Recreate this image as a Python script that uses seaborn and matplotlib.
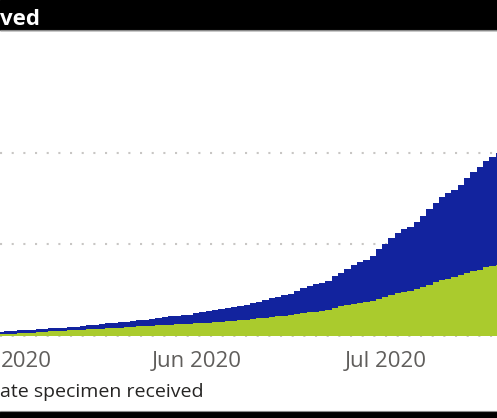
# cumulative stacked bars, cropped Power BI style view
import pandas as pd
import matplotlib.pyplot as plt
import seaborn as sns
from matplotlib.patches import Rectangle
from matplotlib.lines import Line2D

days = pd.date_range("2020-05-01", "2020-07-19").strftime("%Y-%m-%d")

# bottom segment (green), cumulative
green_counts = [220, 250, 280, 330, 360, 390, 440, 470, 500, 550,
                580, 610, 660, 690, 720, 770, 800, 830, 870, 910,
                980, 1020, 1050, 1090, 1130, 1160, 1200, 1240, 1270, 1310,
                1340, 1390, 1420, 1480, 1530, 1580, 1640, 1690, 1750, 1800,
                1860, 1970, 1990, 2080, 2190, 2210, 2300, 2400, 2510, 2620,
                2650, 2730, 2840, 3060, 3280, 3390, 3500, 3610, 3720, 3830,
                4040, 4260, 4480, 4700, 4810, 4920, 5140, 5360, 5570, 5900,
                6120, 6230, 6450, 6670, 6890, 7100, 7210, 7540, 7650, 7760]

# top segment (blue), cumulative
blue_counts = [270, 300, 300, 280, 300, 300, 310, 330, 350, 340,
               350, 370, 380, 400, 460, 480, 510, 550, 560, 580,
               550, 620, 700, 690, 730, 810, 870, 950, 960, 980,
               1010, 1130, 1200, 1260, 1310, 1370, 1420, 1480, 1530, 1580,
               1750, 1760, 1970, 2020, 2040, 2300, 2310, 2510, 2730, 2840,
               3060, 3070, 3170, 3500, 3610, 3930, 4260, 4480, 4590, 4920,
               5470, 5790, 6230, 6560, 6890, 7000, 7320, 7760, 8310, 8630,
               9070, 9400, 9420, 9840, 10380, 10820, 11260, 11590, 11910, 12240]

tick_labels = ["2020", "Jun 2020", "Jul 2020"]

BLUE = "#12239E"
GREEN = "#AACB2D"

sns.set_style("white")
plt.rcParams["font.family"] = ["Open Sans", "DejaVu Sans"]

df = pd.DataFrame({"date": days, "green": green_counts, "blue": blue_counts})
df["total"] = df["green"] + df["blue"]

W, H = 497, 418
fig = plt.figure(figsize=(W / 100, H / 100), dpi=100)
ax = fig.add_axes([0, 81 / H, 1, 267 / H])

sns.barplot(data=df, x="date", y="total", color=BLUE, width=1, linewidth=0,
            saturation=1, ax=ax)
sns.barplot(data=df, x="date", y="green", color=GREEN, width=1, linewidth=0,
            saturation=1, ax=ax)

ax.set_xlim(-0.16, 78.73)
ax.set_ylim(-100, 29000)
ax.set_yticks([0, 10000, 20000])
ax.yaxis.grid(True, color="#c8c6c4", linestyle=(0, (1, 4.6)), linewidth=1.5)
ax.set_axisbelow(True)
ax.tick_params(axis="y", left=False, labelleft=False)

ax.set_xticks([4.0, 31, 61])
ax.set_xticklabels(tick_labels, fontsize=16, color="#605E5C")
ax.tick_params(axis="x", length=0, pad=10)
ax.set_xlabel("")
ax.set_ylabel("")
for s in ax.spines.values():
    s.set_visible(False)

# title band (cropped) and bottom band
fig.add_artist(Rectangle((0, 1 - 29.5 / H), 1, 29.5 / H, transform=fig.transFigure,
                         color="black", zorder=5))
fig.add_artist(Line2D([0, 1], [1 - 30 / H] * 2, transform=fig.transFigure,
                      color="#8a8a8a", lw=0.8, zorder=6))
fig.text(0.0, 1 - 25 / H, "ved", color="white", fontsize=16, fontweight="bold",
         ha="left", va="baseline", zorder=7)

fig.add_artist(Rectangle((0, 0), 1, 6.5 / H, transform=fig.transFigure,
                         color="black", zorder=5))
fig.add_artist(Line2D([0, 1], [7 / H] * 2, transform=fig.transFigure,
                      color="#8a8a8a", lw=0.8, zorder=6))

fig.text(0.0, 1 - 397 / H, "ate specimen received", color="#252423", fontsize=14,
         ha="left", va="baseline")

fig.savefig("out.png", dpi=100)
